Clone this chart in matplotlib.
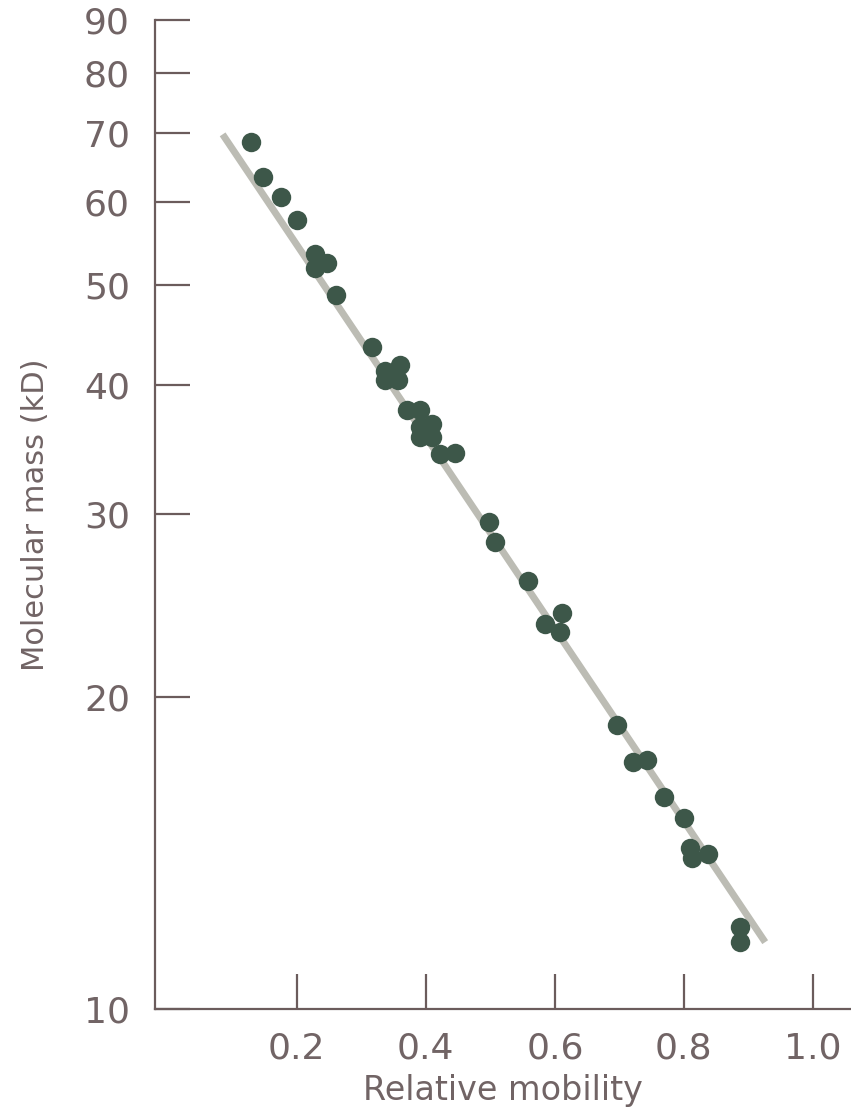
import matplotlib.pyplot as plt
from matplotlib.ticker import FixedLocator, NullLocator

# mobilidad relativa y masa molecular (kD)
movilidad = [0.129, 0.147, 0.175, 0.200, 0.228, 0.247, 0.228, 0.261,
             0.316, 0.336, 0.360, 0.336, 0.357, 0.371, 0.391, 0.391,
             0.409, 0.391, 0.409, 0.422, 0.445, 0.498, 0.507, 0.558,
             0.584, 0.611, 0.608, 0.696, 0.721, 0.743, 0.769, 0.800,
             0.809, 0.837, 0.812, 0.887, 0.887]
masa = [68.6, 63.5, 60.8, 57.7, 53.5, 52.4, 51.9, 48.9,
        43.5, 41.3, 41.8, 40.4, 40.4, 37.8, 37.8, 36.4,
        36.7, 35.6, 35.6, 34.3, 34.4, 29.5, 28.2, 25.9,
        23.5, 24.1, 23.1, 18.8, 17.3, 17.4, 16.0, 15.3,
        14.3, 14.1, 14.0, 12.0, 11.6]

# recta de calibrado (extremos)
recta_x = [0.085, 0.926]
recta_y = [69.8, 11.6]

ticks_x = [0.2, 0.4, 0.6, 0.8, 1.0]
ticks_y = [10, 20, 30, 40, 50, 60, 70, 80, 90]

color_eje = '#6b5c5c'
color_texto = '#716465'

plt.rcParams['font.family'] = ['DejaVu Sans']

fig = plt.figure(figsize=(8.51, 11.09), dpi=100)
ax = fig.add_axes([0.182, 0.0902, 0.818, 0.8918])

ax.plot(recta_x, recta_y, color='#bcbcb4', linewidth=5, solid_capstyle='butt', zorder=1)
ax.plot(movilidad, masa, 'o', color='#3d5749', markersize=14, markeredgewidth=0, zorder=2)

ax.set_yscale('log')
ax.set_xlim(-0.02, 1.059)
ax.set_ylim(10, 90)

ax.xaxis.set_major_locator(FixedLocator(ticks_x))
ax.set_xticklabels(['%.1f' % t for t in ticks_x])
ax.yaxis.set_major_locator(FixedLocator(ticks_y))
ax.set_yticklabels([str(t) for t in ticks_y])
ax.yaxis.set_minor_locator(NullLocator())

for s in ['top', 'right']:
    ax.spines[s].set_visible(False)
for s in ['left', 'bottom']:
    ax.spines[s].set_color(color_eje)
    ax.spines[s].set_linewidth(1.6)

ax.tick_params(axis='both', direction='in', length=25, width=1.6,
               color=color_eje, labelcolor=color_texto, labelsize=26)
ax.tick_params(axis='y', pad=18)
ax.tick_params(axis='x', pad=16)

ax.set_xlabel('Relative mobility', fontsize=24, color=color_texto, labelpad=6)
ax.set_ylabel('Molecular mass (kD)', fontsize=22, color=color_texto, labelpad=24)

fig.savefig('out.png', dpi=100)
